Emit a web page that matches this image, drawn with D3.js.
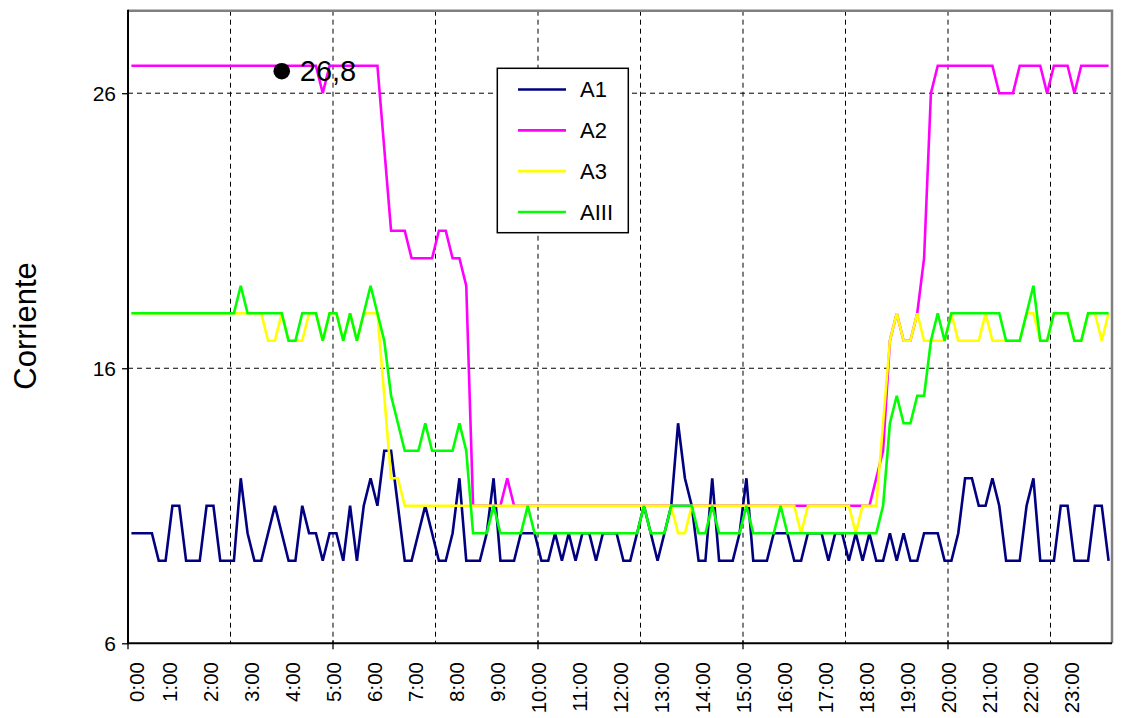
<!DOCTYPE html>
<html><head><meta charset="utf-8">
<script src="https://cdn.jsdelivr.net/npm/d3@7/dist/d3.min.js"></script>
<style>
html,body{margin:0;padding:0;background:#fff;}
svg{display:block;font-family:"Liberation Sans",Arial,sans-serif;}
</style></head>
<body><svg id="chart" width="1131" height="718"></svg>
<script>
// ---- data ----
const seriesNames = ["A1", "A2", "A3", "AIII"];
const seriesColors = ["#000080", "#FF00FF", "#FFFF00", "#00FF00"];
const hourLabels = ["0:00","1:00","2:00","3:00","4:00","5:00","6:00","7:00","8:00","9:00","10:00","11:00",
  "12:00","13:00","14:00","15:00","16:00","17:00","18:00","19:00","20:00","21:00","22:00","23:00"];
const categories = [];
for (let h = 0; h < 24; h++) for (let m = 0; m < 60; m += 10) categories.push(h + ":" + (m < 10 ? "0" : "") + m);
const yTicks = [6, 16, 26];
const markerCategory = "3:40";
const markerValue = 26.8;
const markerLabel = "26,8";

const A1 = [10,10,10,10,9,9,11,11,9,9,
 9,11,11,9,9,9,12,10,9,9,
 10,11,10,9,9,11,10,10,9,10,
 10,9,11,9,11,12,11,13,13,11,
 9,9,10,11,10,9,9,10,12,9,
 9,9,10,12,9,9,9,10,10,10,
 9,9,10,9,10,9,10,10,9,10,
 10,10,9,9,10,11,10,9,10,11,
 14,12,11,9,9,12,9,9,9,10,
 12,9,9,9,10,10,10,9,9,10,
 10,10,9,10,10,9,10,9,10,9,
 9,10,9,10,9,9,10,10,10,9,
 9,10,12,12,11,11,12,11,9,9,
 9,11,12,9,9,9,11,11,9,9,
 9,11,11,9];
const A2 = [27,27,27,27,27,27,27,27,27,27,
 27,27,27,27,27,27,27,27,27,27,
 27,27,27,27,27,27,27,27,26,27,
 27,27,27,27,27,27,27,24,21,21,
 21,20,20,20,20,21,21,20,20,19,
 11,11,11,11,11,12,11,11,11,11,
 11,11,11,11,11,11,11,11,11,11,
 11,11,11,11,11,11,11,11,11,11,
 11,11,11,11,11,11,11,11,11,11,
 11,11,11,11,11,11,11,11,11,11,
 11,11,11,11,11,11,11,11,11,12,
 13,17,18,17,17,18,20,26,27,27,
 27,27,27,27,27,27,27,26,26,26,
 27,27,27,27,26,27,27,27,26,27,
 27,27,27,27];
const A3 = [18,18,18,18,18,18,18,18,18,18,
 18,18,18,18,18,18,18,18,18,18,
 17,17,18,17,17,17,18,18,17,18,
 18,17,18,17,18,18,18,15,12,12,
 11,11,11,11,11,11,11,11,11,11,
 11,11,11,11,11,11,11,11,11,11,
 11,11,11,11,11,11,11,11,11,11,
 11,11,11,11,11,11,11,11,11,11,
 10,10,11,11,11,11,11,11,11,11,
 11,11,11,11,11,11,11,11,10,11,
 11,11,11,11,11,11,10,11,11,11,
 14,17,18,17,17,18,17,17,17,17,
 18,17,17,17,17,18,17,17,17,17,
 17,18,18,17,17,18,18,18,17,17,
 18,18,17,18];
const AIII = [18,18,18,18,18,18,18,18,18,18,
 18,18,18,18,18,18,19,18,18,18,
 18,18,18,17,17,18,18,18,17,18,
 18,17,18,17,18,19,18,17,15,14,
 13,13,13,14,13,13,13,13,14,13,
 10,10,10,11,10,10,10,10,11,10,
 10,10,10,10,10,10,10,10,10,10,
 10,10,10,10,10,11,10,10,10,11,
 11,11,11,10,10,11,10,10,10,10,
 11,10,10,10,10,11,10,10,10,10,
 10,10,10,10,10,10,10,10,10,10,
 11,14,15,14,14,15,15,17,18,17,
 18,18,18,18,18,18,18,18,17,17,
 17,18,19,17,17,18,18,18,17,17,
 18,18,18,18];
const seriesValues = [A1, A2, A3, AIII];

// ---- layout ----
const svg = d3.select("#chart");
svg.append("rect").attr("width", 1131).attr("height", 718).attr("fill", "#fff");
const L = 128, R = 1112, T = 10.7, B = 643.3;

const x = d3.scaleBand().domain(categories).range([L, R]).paddingInner(0).paddingOuter(0);
const cx = c => x(c) + x.bandwidth() / 2;
const y = d3.scaleLinear().domain([6, 29]).range([B, T]);

// gridlines
const g = svg.append("g");
g.selectAll("line.hg").data(yTicks.filter(v => v > 6)).join("line")
  .attr("x1", L).attr("x2", R).attr("y1", d => y(d)).attr("y2", d => y(d))
  .attr("stroke", "#000").attr("stroke-width", 1).attr("stroke-dasharray", "5,4");
const vGrid = categories.filter((c, i) => i > 0 && i % 15 === 0);
g.selectAll("line.vg").data(vGrid).join("line")
  .attr("x1", d => x(d)).attr("x2", d => x(d)).attr("y1", T).attr("y2", B)
  .attr("stroke", "#000").attr("stroke-width", 1).attr("stroke-dasharray", "5,4");

// plot border (top/right gray)
svg.append("path").attr("d", `M${L},${T}H${R}V${B}`).attr("fill", "none")
  .attr("stroke", "#808080").attr("stroke-width", 2.5);

// series
const line = d3.line().x((d, i) => cx(categories[i])).y(d => y(d));
seriesValues.forEach((vals, k) => {
  svg.append("path").datum(vals).attr("d", line).attr("fill", "none")
    .attr("stroke", seriesColors[k]).attr("stroke-width", 2.6).attr("stroke-linejoin", "miter");
});

// axes
const yAxis = d3.axisLeft(y).tickValues(yTicks).tickSize(6).tickPadding(6).tickFormat(d3.format("d"));
const ya = svg.append("g").attr("transform", `translate(${L},0)`).call(yAxis);
ya.select(".domain").remove();
ya.selectAll("line").attr("stroke", "#000").attr("stroke-width", 1.3);
ya.selectAll("text").attr("font-size", 21).attr("fill", "#000").attr("font-family", "Liberation Sans, Arial, sans-serif").attr("dy", "0.36em");

svg.append("line").attr("x1", L).attr("x2", L).attr("y1", T - 1).attr("y2", B + 1).attr("stroke", "#000").attr("stroke-width", 2);
svg.append("line").attr("x1", L).attr("x2", R).attr("y1", B).attr("y2", B).attr("stroke", "#000").attr("stroke-width", 2);

// x major ticks every 30 categories
const xTickCats = categories.filter((c, i) => i % 30 === 0);
svg.selectAll("line.xt").data(xTickCats).join("line")
  .attr("x1", d => x(d)).attr("x2", d => x(d)).attr("y1", B - 3).attr("y2", B + 6)
  .attr("stroke", "#000").attr("stroke-width", 1.3);

// x labels
const labelScale = d3.scalePoint().domain(hourLabels).range([cx(hourLabels[0]), cx(hourLabels[23])]);
svg.selectAll("text.xl").data(hourLabels).join("text")
  .attr("transform", (d, i) => `translate(${labelScale(d) - 2.5 + (i === 0 ? 8 : 0) + 7.5},662) rotate(-90)`)
  .attr("text-anchor", "end").attr("font-size", 20.5).attr("fill", "#000").text(d => d);

// axis title
svg.append("text").attr("transform", "translate(36,326) rotate(-90)")
  .attr("text-anchor", "middle").attr("font-size", 31).attr("fill", "#000").text("Corriente");

// marker
svg.append("circle").attr("cx", cx(markerCategory)).attr("cy", y(markerValue)).attr("r", 8.3).attr("fill", "#000");
svg.append("text").attr("x", cx(markerCategory) + 18).attr("y", y(markerValue) + 10)
  .attr("font-size", 29).attr("fill", "#000").text(markerLabel);

// legend
const lg = svg.append("g");
lg.append("rect").attr("x", 497.3).attr("y", 68.3).attr("width", 131).attr("height", 164.4)
  .attr("fill", "#fff").attr("stroke", "#000").attr("stroke-width", 1.5);
const ly = d3.scalePoint().domain(seriesNames).range([89.5, 212]);
seriesNames.forEach((n, k) => {
  lg.append("line").attr("x1", 518).attr("x2", 566).attr("y1", ly(n)).attr("y2", ly(n))
    .attr("stroke", seriesColors[k]).attr("stroke-width", 2.6);
  lg.append("text").attr("x", 580).attr("y", ly(n)).attr("dy", "0.36em").attr("font-size", 22).attr("fill", "#000").text(n);
});
</script></body></html>
